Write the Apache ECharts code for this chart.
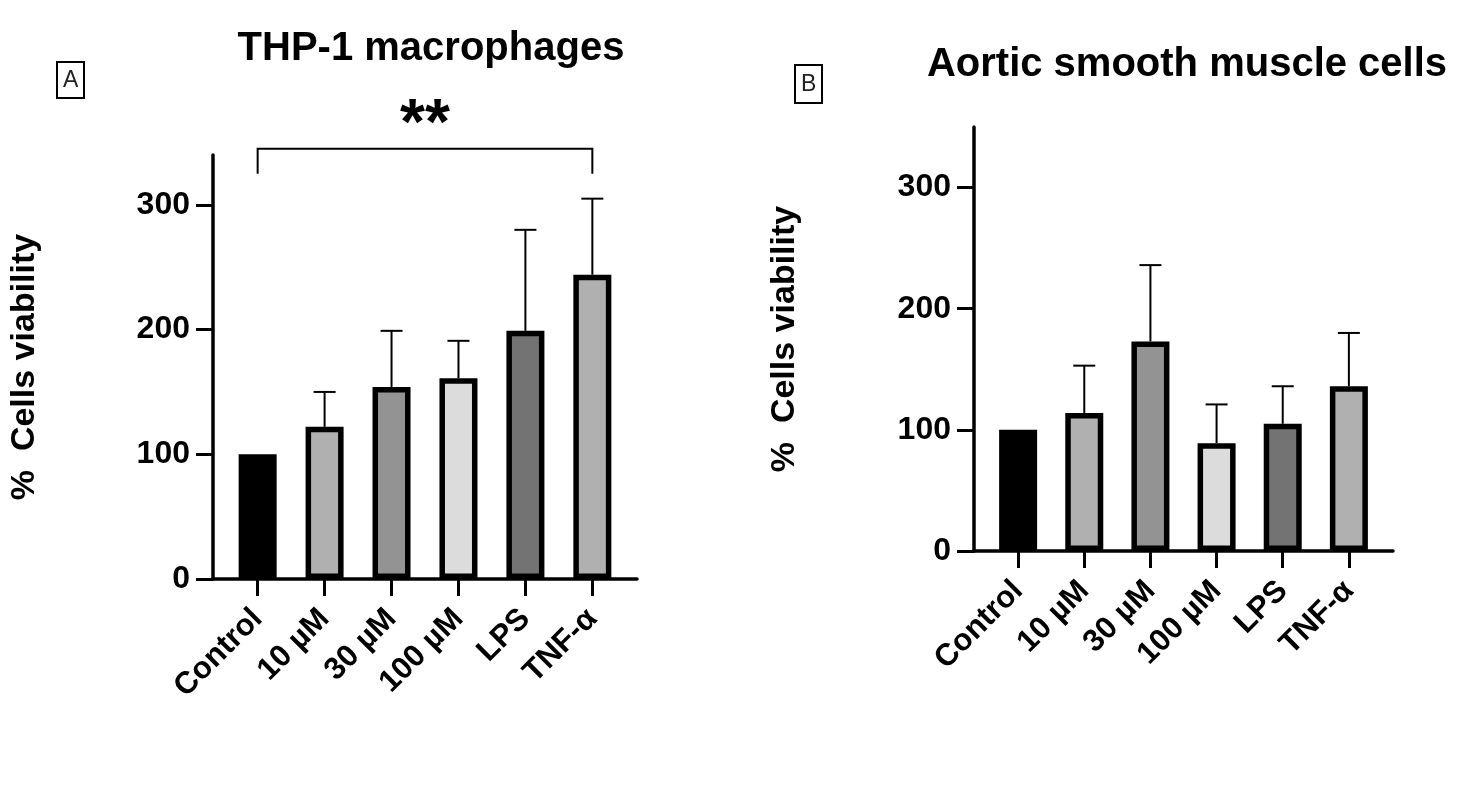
<!DOCTYPE html>
<html><head><meta charset="utf-8">
<script src="https://cdn.jsdelivr.net/npm/echarts@6/dist/echarts.min.js"></script>
<style>html,body{margin:0;padding:0;background:#fff}#c{width:1481px;height:792px}</style>
</head><body><div id="c"></div>
<script>
const categories = ['Control', '10 µM', '30 µM', '100 µM', 'LPS', 'TNF-α'];
const yTicks = [0, 100, 200, 300];
const thpMeans = [100, 122, 154, 161, 199, 244];
const thpErrors = [0, 28, 45, 30, 81, 61];
const asmcMeans = [100, 114, 173, 89, 105, 136];
const asmcErrors = [0, 39, 63, 32, 31, 44];
const barColors = ['#000000', '#b0b0b1', '#939393', '#dcdcdc', '#737373', '#b0b0b1'];
const sigA = [[0, 5, '**']];

const FONT = '"Liberation Sans", Arial, Helvetica, sans-serif';
const catIdx = categories.map((c, i) => i);

function xAxisCfg(gridIndex) {
  return {
    type: 'value', gridIndex, min: -0.667, max: 5.667,
    splitLine: { show: false },
    axisLine: { show: true, onZero: false, lineStyle: { color: '#000', width: 3.5 } },
    axisTick: { show: true, customValues: catIdx, length: 17, lineStyle: { color: '#000', width: 3 } },
    axisLabel: {
      show: true, customValues: catIdx, rotate: 45, margin: 35,
      formatter: v => categories[Math.round(v)],
      color: '#000', fontFamily: FONT, fontWeight: 'bold', fontSize: 31
    }
  };
}
function yAxisCfg(gridIndex, max, nameGap) {
  return {
    type: 'value', gridIndex, min: 0, max,
    name: '%  Cells viability', nameLocation: 'middle', nameGap,
    nameTextStyle: { color: '#000', fontFamily: FONT, fontWeight: 'bold', fontSize: 34 },
    splitLine: { show: false },
    axisLine: { show: true, onZero: false, lineStyle: { color: '#000', width: 3.5 } },
    axisTick: { show: true, customValues: yTicks, length: 17, lineStyle: { color: '#000', width: 3 } },
    axisLabel: {
      customValues: yTicks, margin: 23,
      color: '#000', fontFamily: FONT, fontWeight: 'bold', fontSize: 32
    }
  };
}
function barSeries(idx, means) {
  return {
    type: 'bar', xAxisIndex: idx, yAxisIndex: idx, barWidth: 38, z: 3,
    data: means.map((m, i) => ({
      value: [i, m],
      itemStyle: { color: barColors[i], borderColor: '#000', borderWidth: 5.5 }
    })),
    animation: false
  };
}
function errSeries(idx, means, errs) {
  return {
    type: 'custom', xAxisIndex: idx, yAxisIndex: idx, z: 2, clip: false,
    data: means.map((m, i) => [i, m, errs[i]]),
    renderItem: (params, api) => {
      const x = api.value(0), m = api.value(1), e = api.value(2);
      if (!e) return null;
      const p0 = api.coord([x, m]);
      const p1 = api.coord([x, m + e]);
      const st = { stroke: '#000', lineWidth: 2 };
      return {
        type: 'group', children: [
          { type: 'line', shape: { x1: p0[0], y1: p0[1], x2: p1[0], y2: p1[1] }, style: st },
          { type: 'line', shape: { x1: p1[0] - 11, y1: p1[1], x2: p1[0] + 11, y2: p1[1] }, style: st }
        ]
      };
    },
    animation: false
  };
}
const bracketTop = 345, bracketLeg = 325;
const sigSeries = {
  type: 'custom', xAxisIndex: 0, yAxisIndex: 0, z: 4, clip: false,
  data: sigA,
  renderItem: (params, api) => {
    const a = api.value(0), b = api.value(1);
    const pa0 = api.coord([a, bracketLeg]), pa1 = api.coord([a, bracketTop]);
    const pb1 = api.coord([b, bracketTop]), pb0 = api.coord([b, bracketLeg]);
    return {
      type: 'group', children: [
        { type: 'polyline', shape: { points: [pa0, pa1, pb1, pb0] }, style: { stroke: '#000', lineWidth: 2, fill: null } },
        { type: 'text', x: (pa1[0] + pb1[0]) / 2, y: pa1[1] + 10,
          style: { text: sigA[params.dataIndex][2], textAlign: 'center', textVerticalAlign: 'bottom',
            font: 'bold 64px ' + FONT, fill: '#000' } }
      ]
    };
  },
  animation: false
};

const chart = echarts.init(document.getElementById('c'), null, { renderer: 'canvas' });
chart.setOption({
  backgroundColor: '#fff',
  animation: false,
  title: [
    { text: 'THP-1 macrophages', left: 426, top: 24, textAlign: 'center',
      textStyle: { fontFamily: FONT, fontWeight: 'bold', fontSize: 40, color: '#000' } },
    { text: 'Aortic smooth muscle cells', left: 1182, top: 40, textAlign: 'center',
      textStyle: { fontFamily: FONT, fontWeight: 'bold', fontSize: 40, color: '#000' } },
    { text: 'A', left: 57, top: 62, padding: [7, 6, 6, 6], borderColor: '#000', borderWidth: 2,
      textStyle: { fontFamily: FONT, fontWeight: 'normal', fontSize: 23, color: '#222' } },
    { text: 'B', left: 795, top: 65, padding: [8, 6, 7, 6], borderColor: '#000', borderWidth: 2,
      textStyle: { fontFamily: FONT, fontWeight: 'normal', fontSize: 23, color: '#222' } }
  ],
  grid: [
    { left: 213, top: 155, width: 424, height: 424 },
    { left: 974, top: 127, width: 419, height: 424 }
  ],
  xAxis: [xAxisCfg(0), xAxisCfg(1)],
  yAxis: [yAxisCfg(0, 340, 171), yAxisCfg(1, 350, 172)],
  series: [
    errSeries(0, thpMeans, thpErrors),
    barSeries(0, thpMeans),
    errSeries(1, asmcMeans, asmcErrors),
    barSeries(1, asmcMeans),
    sigSeries
  ]
});
</script>
</body></html>
